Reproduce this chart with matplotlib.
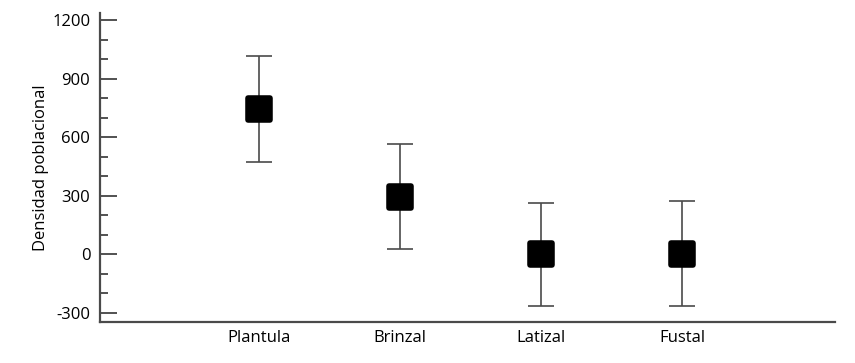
import matplotlib
matplotlib.use("Agg")
import matplotlib.pyplot as plt
from matplotlib.markers import MarkerStyle
from matplotlib.ticker import MultipleLocator

# datos
categorias = ['Plantula', 'Brinzal', 'Latizal', 'Fustal']
medias = [746, 296, 0, 4]
errores = [271, 267, 264, 270]

plt.rcParams['font.family'] = ['Open Sans', 'DejaVu Sans']
plt.rcParams['axes.unicode_minus'] = False

fig = plt.figure(figsize=(8.55, 3.63), dpi=100)
ax = fig.add_axes([100 / 855, 41 / 363, 735 / 855, 309 / 363])

pos = list(range(1, len(categorias) + 1))
ax.errorbar(pos, medias, yerr=errores, fmt='none', ecolor='#4a4a4a',
            elinewidth=1.2, capsize=9.7, capthick=1.2)
cuadro = MarkerStyle('s', joinstyle='round')
ax.plot(pos, medias, linestyle='none', marker=cuadro, markersize=16,
        markerfacecolor='black', markeredgecolor='black', markeredgewidth=4)

ax.set_xlim(-0.128, 5.085)
ax.set_ylim(-346, 1236)
ax.set_xticks(pos)
ax.set_xticklabels(categorias, fontsize=12)
ax.yaxis.set_major_locator(MultipleLocator(300))
ax.yaxis.set_minor_locator(MultipleLocator(100))
ax.set_yticks([-300, 0, 300, 600, 900, 1200])
ax.tick_params(axis='y', which='major', direction='in', length=12, width=1.2,
               color='#333333', labelsize=12, pad=7)
ax.tick_params(axis='y', which='minor', direction='in', length=6, width=1.2,
               color='#333333')
ax.tick_params(axis='x', length=0, pad=6)
ax.set_ylabel('Densidad poblacional', fontsize=12, labelpad=2)

for lado in ['top', 'right']:
    ax.spines[lado].set_visible(False)
for lado in ['left', 'bottom']:
    ax.spines[lado].set_color('#4a4a4a')
    ax.spines[lado].set_linewidth(1.6)

fig.savefig('out.png', dpi=100)
